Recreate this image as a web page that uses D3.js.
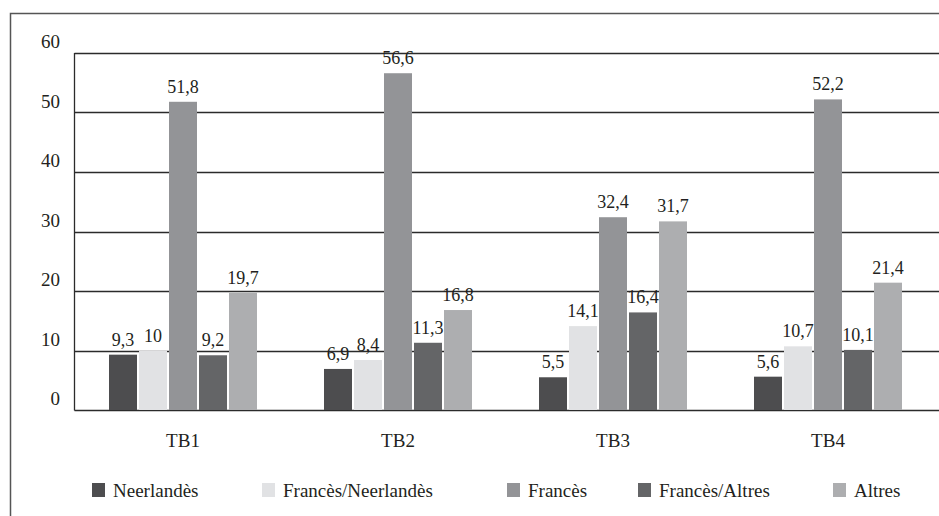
<!DOCTYPE html>
<html>
<head>
<meta charset="utf-8">
<script src="https://cdn.jsdelivr.net/npm/d3@7"></script>
<style>
  body { margin: 0; background: #fff; }
</style>
</head>
<body>
<div class="demo"></div>
<script>
// data
var groups = ['TB1', 'TB2', 'TB3', 'TB4'];
var series = ['Neerlandès', 'Francès/Neerlandès', 'Francès', 'Francès/Altres', 'Altres'];
var neerlandes = [9.3, 6.9, 5.5, 5.6];
var francesNeerlandes = [10, 8.4, 14.1, 10.7];
var frances = [51.8, 56.6, 32.4, 52.2];
var francesAltres = [9.2, 11.3, 16.4, 10.1];
var altres = [19.7, 16.8, 31.7, 21.4];
var yTicks = [0, 10, 20, 30, 40, 50, 60];

var colors = ['#4d4d4f', '#e1e2e4', '#939497', '#646567', '#adaeb0'];
var legendX = [92, 262, 507, 638, 833]; // legend square positions

var values = [neerlandes, francesNeerlandes, frances, francesAltres, altres];
var rows = [];
groups.forEach(function (g, gi) {
  series.forEach(function (s, si) {
    rows.push({group: g, serie: s, value: values[si][gi], color: colors[si]});
  });
});

var w = 939, h = 516;
var svg = d3.select('.demo').append('svg').attr('width', w).attr('height', h)
  .attr('font-family', '"Liberation Serif", "Times New Roman", serif')
  .attr('fill', '#231f20');

// outer frame (runs off right/bottom)
svg.append('path')
  .attr('d', 'M10.5,' + h + 'V13.5H' + w)
  .attr('fill', 'none').attr('stroke', '#555').attr('stroke-width', 1.5);

var x0 = d3.scaleBand().domain(groups).range([75.5, 935.5]);
var x1 = d3.scaleBand().domain(series).range([-75, 75]).paddingInner(2 / 30).paddingOuter(1 / 30);
var y = d3.scaleLinear().domain([0, 60]).range([410, 53]);

// grid lines
svg.append('g').selectAll('line').data(yTicks).enter()
  .append('line')
  .attr('x1', 74.5).attr('x2', w)
  .attr('y1', function (d) { return Math.round(y(d)) + 0.5; })
  .attr('y2', function (d) { return Math.round(y(d)) + 0.5; })
  .attr('stroke', '#2b2b2b').attr('stroke-width', 1.3);

// y axis line
svg.append('line').attr('x1', 74.5).attr('x2', 74.5).attr('y1', y(60)).attr('y2', y(0) + 0.5)
  .attr('stroke', '#2b2b2b').attr('stroke-width', 1.3);

// y tick labels
svg.append('g').selectAll('text').data(yTicks).enter()
  .append('text')
  .text(function (d) { return d; })
  .attr('x', 60).attr('y', function (d) { return y(d) - 5; })
  .attr('text-anchor', 'end').attr('font-size', '19px');

var fmt = function (v) { return String(v).replace('.', ','); };

// bars
svg.append('g').selectAll('rect').data(rows).enter()
  .append('rect')
  .attr('x', function (d) { return x0(d.group) + x0.bandwidth() / 2 + x1(d.serie); })
  .attr('y', function (d) { return y(d.value); })
  .attr('width', x1.bandwidth())
  .attr('height', function (d) { return y(0) - y(d.value); })
  .attr('fill', function (d) { return d.color; });

// value labels
svg.append('g').selectAll('text').data(rows).enter()
  .append('text')
  .text(function (d) { return fmt(d.value); })
  .attr('x', function (d) { return x0(d.group) + x0.bandwidth() / 2 + x1(d.serie) + x1.bandwidth() / 2; })
  .attr('y', function (d) { return y(d.value) - 9; })
  .attr('text-anchor', 'middle').attr('font-size', '18px');

// category labels
svg.append('g').selectAll('text').data(groups).enter()
  .append('text')
  .text(function (d) { return d; })
  .attr('x', function (d) { return x0(d) + x0.bandwidth() / 2; })
  .attr('y', 447)
  .attr('text-anchor', 'middle').attr('font-size', '19px');

// legend
var lg = svg.append('g').selectAll('g').data(series).enter().append('g')
  .attr('transform', function (d, i) { return 'translate(' + legendX[i] + ',483)'; });
lg.append('rect').attr('width', 13).attr('height', 14)
  .attr('fill', function (d, i) { return colors[i]; });
lg.append('text').text(function (d) { return d; })
  .attr('x', 21).attr('y', 14).attr('font-size', '19px');
</script>
</body>
</html>
